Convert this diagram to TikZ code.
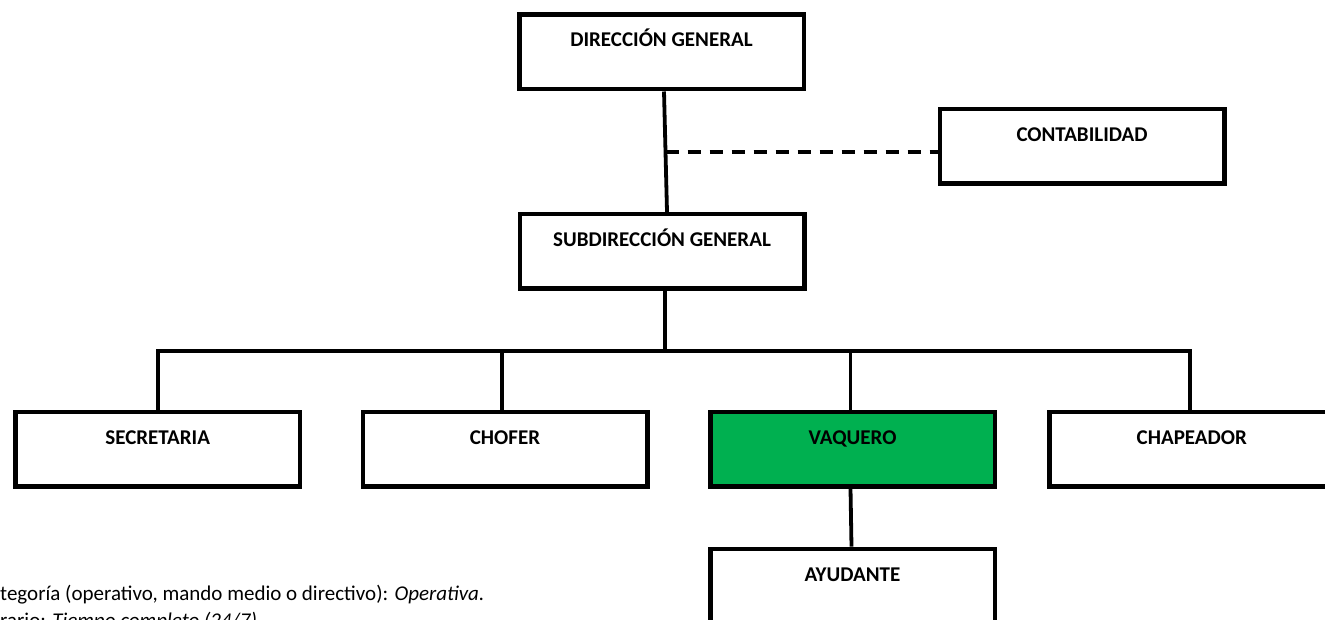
\documentclass[tikz,border=0pt]{standalone}
\usepackage{fontspec}
\setmainfont{Carlito}
\usetikzlibrary{calc}
\definecolor{boxgreen}{RGB}{0,176,80}
\begin{document}
\begin{tikzpicture}[x=1pt,y=-1pt,
  orgbox/.style={draw=black, line width=4.5pt, fill=white,
    minimum width=284.5pt, minimum height=74.5pt, inner sep=0pt,
    font=\fontsize{21}{25}\selectfont\bfseries,
    text height=14pt, text depth=24pt},
  link/.style={line width=3.8pt, line join=miter, line cap=butt},
  dashlink/.style={line width=4pt, dash pattern=on 13pt off 9pt},
  note/.style={anchor=base west, inner sep=0pt,
    font=\fontsize{21}{25}\selectfont}]
\useasboundingbox (0,0) rectangle (1325,620);
\clip (0,0) rectangle (1325,620);

% boxes of the chart
\node[orgbox] (dg)   at (661.5,52)    {DIRECCIÓN GENERAL};
\node[orgbox] (cont) at (1082,146.5)  {CONTABILIDAD};
\node[orgbox] (sg)   at (662,251.3)   {SUBDIRECCIÓN GENERAL};
\node[orgbox] (sec)  at (157.7,449)   {SECRETARIA};
\node[orgbox] (cho)  at (505,449)     {CHOFER};
\node[orgbox, fill=boxgreen] (vaq) at (852.5,449) {VAQUERO};
\node[orgbox] (chap) at (1191.8,449)  {CHAPEADOR};
\node[orgbox] (ayu)  at (852.5,586.2) {AYUDANTE};

% main line of command
\draw[link] ([xshift=2.5pt]dg.south) -- ([xshift=5pt]sg.north);
\coordinate (tap) at (665.5,152);
\draw[dashlink] (tap) -- (tap -| cont.west);

% distribution bus under the sub-direction
\coordinate (bus) at (665,351);
\draw[link] ([xshift=3pt]sg.south) -- ([xshift=3pt]sg.south |- bus);
\draw[link] (sec.north) -- (sec.north |- bus)
  -- ([xshift=-2pt]chap.north |- bus) -- ([xshift=-2pt]chap.north);
\draw[link] ([xshift=-3pt]cho.north) -- ([xshift=-3pt]cho.north |- bus);
\draw[link] ([xshift=-2pt]vaq.north) -- ([xshift=-2pt]vaq.north |- bus);
\draw[link] ([xshift=-2pt]vaq.south) -- ([xshift=-1pt]ayu.north);

% notes under the chart
\node[note] (n1) at (0,600.5) {tegoría (operativo, mando medio o directivo): \textit{Operativa.}};
\node[note] (n2) at (0,627.5) {rario: \textit{Tiempo completo (24/7)}};
\end{tikzpicture}
\end{document}
